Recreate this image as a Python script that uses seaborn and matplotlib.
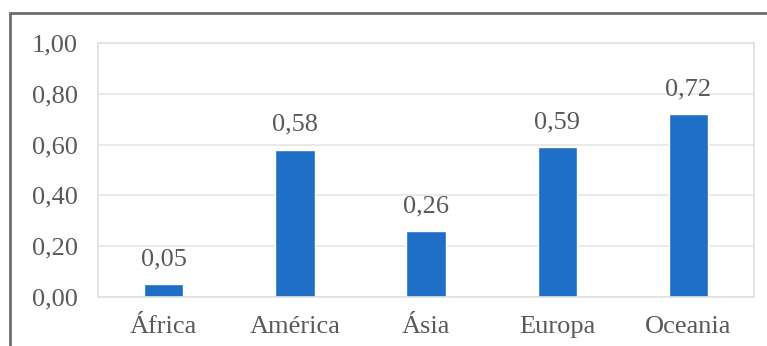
import matplotlib
matplotlib.use("Agg")
import matplotlib.pyplot as plt
from matplotlib.patches import Rectangle
from matplotlib.ticker import FuncFormatter, MultipleLocator
import seaborn as sns
import pandas as pd

continentes = ["África", "América", "Ásia", "Europa", "Oceania"]
valores = [0.05, 0.58, 0.26, 0.59, 0.72]

sns.set_theme(style="white")
plt.rcParams["font.family"] = ["Liberation Serif", "DejaVu Serif"]

texto = "#595959"
azul = "#1f6fc6"

df = pd.DataFrame({"continente": continentes, "valor": valores})

fig = plt.figure(figsize=(7.67, 3.46), dpi=100)
ax = fig.add_axes([0.128, 0.142, 0.855, 0.733])

sns.barplot(data=df, x="continente", y="valor", color=azul, width=0.3,
            saturation=1, ax=ax)

ax.set_ylim(0, 1.0)
ax.yaxis.set_major_locator(MultipleLocator(0.2))
ax.yaxis.set_major_formatter(FuncFormatter(lambda v, _: f"{v:.2f}".replace(".", ",")))
ax.set_xlabel("")
ax.set_ylabel("")
ax.grid(axis="y", color="#e6e6e6", linewidth=1.2)
ax.set_axisbelow(True)
for s in ax.spines.values():
    s.set_color("#e0e0e0")
    s.set_linewidth(1.2)
ax.tick_params(axis="both", length=0, labelsize=19, labelcolor=texto)
ax.tick_params(axis="y", pad=14.5)
ax.tick_params(axis="x", pad=14)

labels = [f"{v:.2f}".replace(".", ",") for v in valores]
ax.bar_label(ax.containers[0], labels=labels, padding=10, fontsize=19, color=texto)

# Outer chart frame (top and left edges visible)
fig.patches.append(Rectangle((10 / 767, -0.1), 1.2, 1 - 13 / 346 + 0.1,
                             transform=fig.transFigure, fill=False,
                             edgecolor="#6e6e6e", linewidth=2))

fig.savefig("out.png", dpi=100)
